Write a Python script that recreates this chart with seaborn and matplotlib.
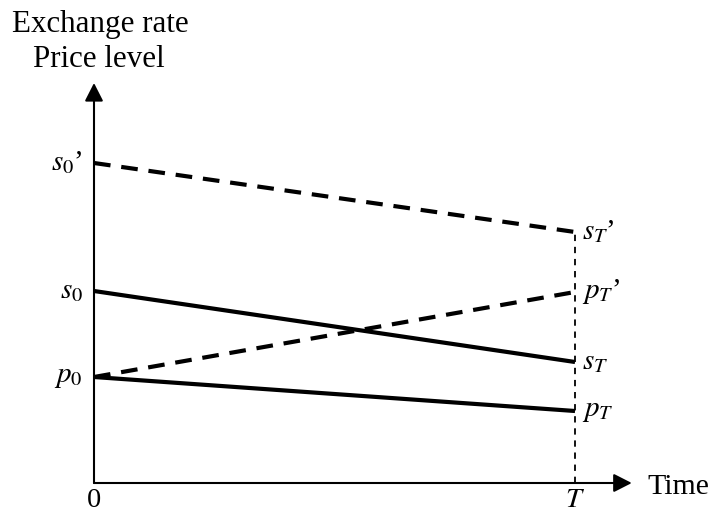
import pandas as pd
import seaborn as sns
import matplotlib.pyplot as plt

# time axis: start (0) and horizon T
time = [0.0, 1.0]
time_ticks = ['0', '$T$']

# levels (arbitrary units)
s_base = [1.92, 1.21]   # exchange rate, solid
p_base = [1.06, 0.72]   # price level, solid
s_alt = [3.20, 2.51]    # exchange rate, dashed
p_alt = [1.06, 1.91]    # price level, dashed

left_labels = ["$s_0$\u2019", "$s_0$", "$p_0$"]
left_values = [s_alt[0], s_base[0], p_base[0]]
right_labels = ["$s_T$\u2019", "$p_T$\u2019", "$s_T$", "$p_T$"]
right_values = [s_alt[1], p_alt[1], s_base[1], p_base[1]]

y_arrow_top = 4.0
x_arrow_end = 1.118

sns.set_theme(style='white')
plt.rcParams['font.family'] = ['Liberation Serif', 'DejaVu Serif']
plt.rcParams['mathtext.fontset'] = 'stix'
plt.rcParams['text.color'] = 'black'

fig = plt.figure(figsize=(7.15, 5.14), dpi=100)
ax = fig.add_axes([0, 0, 1, 1])
# map data onto the canvas so the origin sits where the reference has it
ax.set_xlim(-94 / 481, (715 - 94) / 481)
ax.set_ylim(-(514 - 483) / 100, 483 / 100)
ax.set_axis_off()

df = pd.DataFrame({
    'time': time * 4,
    'level': s_base + p_base + s_alt + p_alt,
    'series': ['s'] * 2 + ['p'] * 2 + ["s'"] * 2 + ["p'"] * 2,
})

solid = '-'
dashed = (0, (4, 2.6))
for name, ls in [('s', solid), ('p', solid), ("s'", dashed), ("p'", dashed)]:
    d = df[df['series'] == name]
    sns.lineplot(data=d, x='time', y='level', ax=ax, color='black', lw=3,
                 linestyle=ls, solid_capstyle='butt', dash_capstyle='butt',
                 estimator=None)

# vertical guide at T
sns.lineplot(x=[time[1], time[1]], y=[0, s_alt[1]], ax=ax, color='black',
             lw=1.3, linestyle=(0, (3.5, 3.2)), estimator=None, sort=False)

# axes with arrow heads
arrow = dict(arrowstyle='-|>,head_length=0.55,head_width=0.28', lw=1.5,
             color='black', mutation_scale=20, shrinkA=0, shrinkB=0)
ax.annotate('', xy=(0, y_arrow_top), xytext=(0, 0), arrowprops=arrow)
ax.annotate('', xy=(x_arrow_end, 0), xytext=(0, 0), arrowprops=arrow)

fs = 21
fs_text = 22.3
for lab, v in zip(left_labels, left_values):
    ax.annotate(lab, (0, v), xytext=(-8, 0), textcoords='offset points',
                ha='right', va='center', fontsize=fs)
for lab, v in zip(right_labels, right_values):
    ax.annotate(lab, (time[1], v), xytext=(5, 0), textcoords='offset points',
                ha='left', va='center', fontsize=fs)

for t, lab in zip(time, time_ticks):
    ax.annotate(lab, (t, 0), xytext=(0, -21.8), textcoords='offset points',
                ha='center', va='bottom', fontsize=20.5)

ax.annotate('Time', (x_arrow_end, 0), xytext=(11, -8), textcoords='offset points',
            ha='left', va='baseline', fontsize=21.5)

fig.text(100 / 715, 1 - 32 / 514, 'Exchange rate', ha='center', va='baseline', fontsize=fs_text)
fig.text(99 / 715, 1 - 67 / 514, 'Price level', ha='center', va='baseline', fontsize=fs_text)

fig.savefig('out.png', dpi=100)
